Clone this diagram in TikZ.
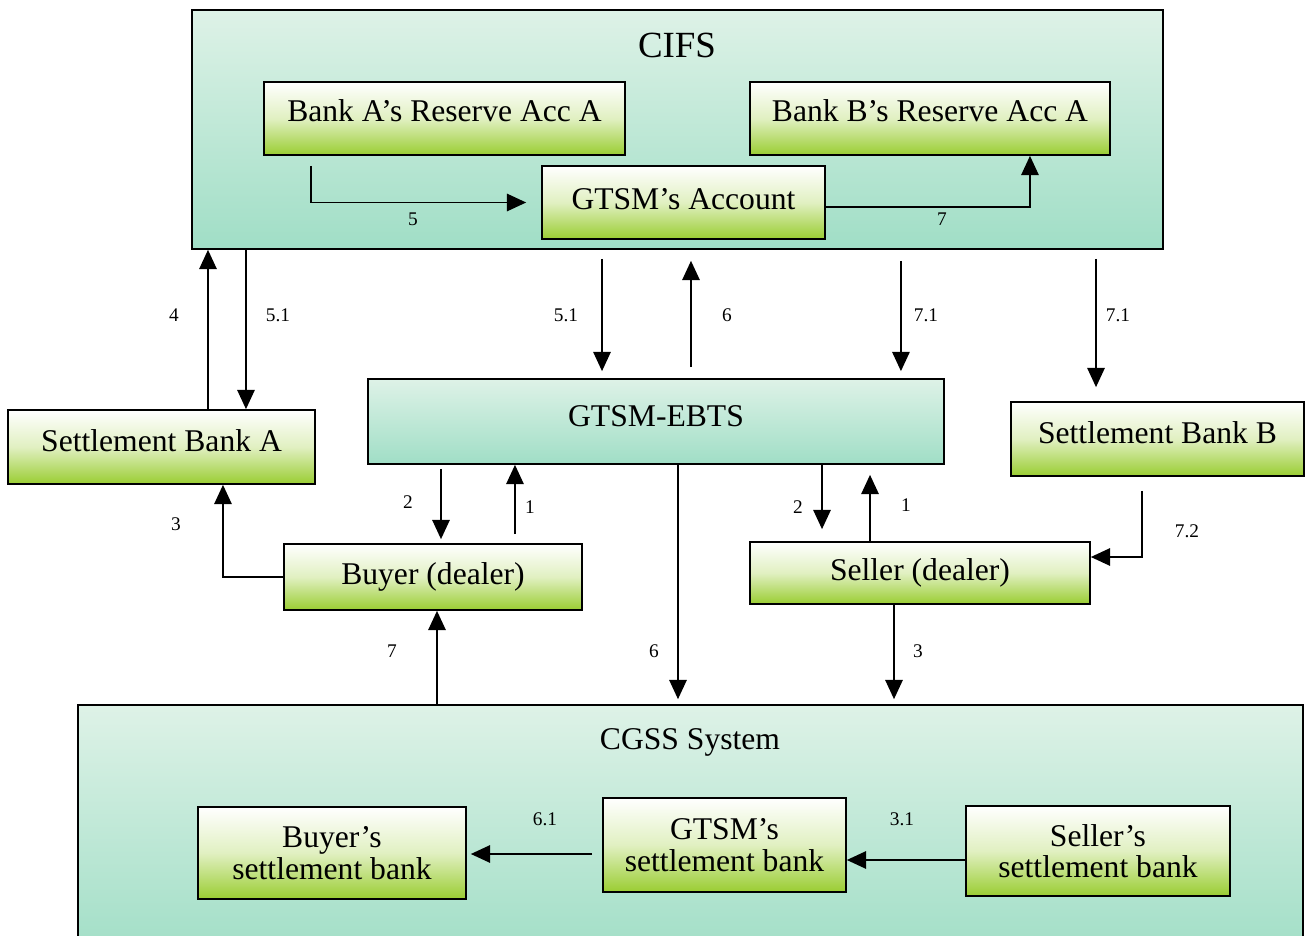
\documentclass[tikz,border=0pt]{standalone}
\usepackage{fontspec}
\setmainfont{Liberation Serif}
\usetikzlibrary{arrows.meta}
\definecolor{gbot}{RGB}{154,205,50}
\definecolor{ttop}{RGB}{222,242,231}
\definecolor{tbot}{RGB}{160,222,198}

\begin{document}
\begin{tikzpicture}[x=0.02cm,y=-0.02cm]
	\tikzset{greenbox/.style={draw, line width=1pt, top color=white, bottom color=gbot, middle color=gbot!30, inner sep=0pt, font=\fontsize{18}{18}\selectfont, text height=12.5pt, text depth=4pt},
		twoline/.style={draw, line width=1pt, top color=white, bottom color=gbot, middle color=gbot!30, inner sep=0pt, font=\fontsize{18}{18}\selectfont, align=center},
		tealbox/.style={draw, line width=1pt, top color=ttop, bottom color=tbot, inner sep=0pt, font=\fontsize{18}{18}\selectfont, text height=12.5pt, text depth=4pt},
		num/.style={font=\fontsize{11}{11}\selectfont, inner sep=0pt},
		arr/.style={line width=0.8pt, -{Triangle[length=11pt,width=10pt]}}}
	\clip (0,0) rectangle (1306,936);
	
	% CIFS
	\node[tealbox, minimum width=19.42cm, minimum height=4.78cm] (cifs) at (677.5,129.5) {};
	\node[font=\fontsize{21}{21}\selectfont] (cifstitle) at (677,45) {CIFS};
	\node[greenbox, text depth=9.5pt, minimum width=7.22cm, minimum height=1.46cm] (bankA) at (444.5,118.5) {Bank A’s Reserve Acc A};
	\node[greenbox, text depth=9.5pt, minimum width=7.20cm, minimum height=1.46cm] (bankB) at (930,118.5) {Bank B’s Reserve Acc A};
	\node[greenbox, minimum width=5.66cm, minimum height=1.46cm] (gtsmacc) at (683.5,202.5) {GTSM’s Account};
	
	% middle row
	\node[tealbox, text depth=7pt, minimum width=11.52cm, minimum height=1.70cm] (ebts) at (656,421.5) {GTSM-EBTS};
	\node[greenbox, text depth=7pt, minimum width=6.14cm, minimum height=1.48cm] (sbA) at (161.5,447) {Settlement Bank A};
	\node[greenbox, text depth=7pt, minimum width=5.86cm, minimum height=1.48cm] (sbB) at (1157.5,439) {Settlement Bank B};
	\node[greenbox, minimum width=5.96cm, minimum height=1.32cm] (buyer) at (433,577) {Buyer (dealer)};
	\node[greenbox, minimum width=6.80cm, minimum height=1.24cm] (seller) at (920,573) {Seller (dealer)};
	
	% CGSS
	\node[tealbox, minimum width=24.50cm, minimum height=5.10cm] (cgss) at (690.5,832.5) {};
	\node[font=\fontsize{18}{18}\selectfont] (cgsstitle) at (690,742) {CGSS System};
	\node[twoline, minimum width=5.36cm, minimum height=1.84cm] (buyersb) at (332,853) {Buyer’s\\settlement bank};
	\node[twoline, minimum width=4.86cm, minimum height=1.88cm] (gtsmsb) at (724.5,845) {GTSM’s\\settlement bank};
	\node[twoline, minimum width=5.28cm, minimum height=1.80cm] (sellersb) at (1098,851) {Seller’s\\settlement bank};
	
	% inside CIFS
	\draw[arr, shorten <=0.2cm, shorten >=0.3cm] ([xshift=-2.67cm]bankA.south) |- (gtsmacc.west);
	\draw[arr] ([yshift=-0.09cm]gtsmacc.east) -| ([xshift=2cm]bankB.south);
	\node[num] at (413,219) {5};
	\node[num] at (942,219) {7};
	
	% CIFS <-> banks, EBTS
	\draw[arr] ([xshift=0.93cm]sbA.north) -- ([xshift=0.93cm]sbA.north |- cifs.south);
	\draw[arr] ([xshift=1.69cm]sbA.north |- cifs.south) -- ([xshift=1.69cm]sbA.north);
	\draw[arr, shorten <=0.18cm, shorten >=0.14cm] ([xshift=-1.08cm]ebts.north |- cifs.south) -- ([xshift=-1.08cm]ebts.north);
	\draw[arr, shorten <=0.22cm, shorten >=0.22cm] ([xshift=0.70cm]ebts.north) -- ([xshift=0.70cm]ebts.north |- cifs.south);
	\draw[arr, shorten <=0.22cm, shorten >=0.14cm] ([xshift=4.90cm]ebts.north |- cifs.south) -- ([xshift=4.90cm]ebts.north);
	\draw[arr, shorten <=0.18cm, shorten >=0.28cm] ([xshift=-1.23cm]sbB.north |- cifs.south) -- ([xshift=-1.23cm]sbB.north);
	\node[num] at (174,315) {4};
	\node[num] at (278,315) {5.1};
	\node[num] at (566,315) {5.1};
	\node[num] at (727,315) {6};
	\node[num] at (926,315) {7.1};
	\node[num] at (1118,315) {7.1};
	
	% dealers
	\draw[arr, shorten <=0.08cm, shorten >=0.08cm] ([xshift=0.16cm]buyer.north |- ebts.south) -- ([xshift=0.16cm]buyer.north);
	\draw[arr, shorten <=0.18cm] ([xshift=1.64cm]buyer.north) -- ([xshift=1.64cm]buyer.north |- ebts.south);
	\draw[arr] (buyer.west) -| ([xshift=1.23cm]sbA.south);
	\draw[arr, shorten >=0.24cm] ([xshift=-1.96cm]seller.north |- ebts.south) -- ([xshift=-1.96cm]seller.north);
	\draw[arr, shorten >=0.2cm] ([xshift=-1.00cm]seller.north) -- ([xshift=-1.00cm]seller.north |- ebts.south);
	\draw[arr, shorten <=0.28cm] ([xshift=-0.31cm]sbB.south) |- ([yshift=0.32cm]seller.east);
	\node[num] at (408,502) {2};
	\node[num] at (530,507) {1};
	\node[num] at (176,524) {3};
	\node[num] at (798,507) {2};
	\node[num] at (906,505) {1};
	\node[num] at (1187,531) {7.2};
	
	% to and from CGSS
	\draw[arr] ([xshift=0.08cm]buyer.south |- cgss.north) -- ([xshift=0.08cm]buyer.south);
	\draw[arr, shorten >=0.1cm] ([xshift=0.44cm]ebts.south) -- ([xshift=0.44cm]ebts.south |- cgss.north);
	\draw[arr, shorten >=0.1cm] ([xshift=-0.52cm]seller.south) -- ([xshift=-0.52cm]seller.south |- cgss.north);
	\node[num] at (392,651) {7};
	\node[num] at (654,651) {6};
	\node[num] at (918,651) {3};
	
	% inside CGSS
	\draw[arr, shorten <=0.2cm, shorten >=0.08cm] ([yshift=-0.18cm]gtsmsb.west) -- ([yshift=-0.18cm]gtsmsb.west -| buyersb.east);
	\draw[arr] ([yshift=-0.18cm]sellersb.west) -- ([yshift=-0.18cm]sellersb.west -| gtsmsb.east);
	\node[num] at (545,819) {6.1};
	\node[num] at (902,819) {3.1};
\end{tikzpicture}
\end{document}
